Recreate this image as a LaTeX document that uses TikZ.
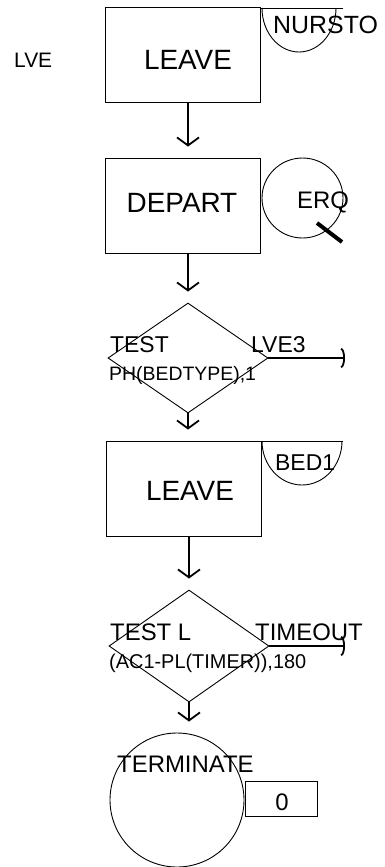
\documentclass[tikz,border=0pt]{standalone}
\usepackage{fontspec}
\setmainfont{Liberation Sans}
\usetikzlibrary{arrows.meta,shapes.geometric}
\begin{document}
\begin{tikzpicture}[x=1bp,y=-1bp,
  thinline/.style={line width=0.9bp},
  box/.style={draw,thinline,minimum width=155bp,minimum height=95bp,inner sep=0},
  dia/.style={draw,diamond,thinline,minimum width=160bp,minimum height=110bp,inner sep=0},
  flow/.style={line width=1.8bp,-{Straight Barb[length=8bp,width=22bp,line width=1.8bp]},shorten >=11bp},
  exitarrow/.style={line width=1.8bp,-{Arc Barb[length=4bp,width=20bp,line width=1.8bp]}},
  lbl/.style={inner sep=0,anchor=base west,font=\fontsize{23}{23}\selectfont},
  small/.style={inner sep=0,anchor=base west,font=\fontsize{19.5}{20}\selectfont},
  big/.style={inner sep=0,font=\fontsize{28}{28}\selectfont}]
\useasboundingbox (0,0) rectangle (384,867);

% blocks
\node[box] (b1) at (182.5,55) {};
\node[big] (t1) at (188,60) {LEAVE};
\node[box] (b2) at (183,205.5) {};
\node[big] (t2) at (182,203) {DEPART};
\node[dia] (d1) at (188,358) {};
\node[box] (b3) at (184,488.5) {};
\node[big] (t3) at (190,491) {LEAVE};
\node[dia, minimum height=112bp] (d2) at (189,646) {};
\node[draw,circle,thinline,minimum size=134bp,inner sep=0] (term) at (177,800) {};
\node[draw,thinline,minimum width=72bp,minimum height=35bp,inner sep=0] (zb) at (281,798.5) {};
\node[inner sep=0,font=\fontsize{24}{24}\selectfont] (zt) at (282,802) {0};

% label / entities
\node[inner sep=0,anchor=base west,font=\fontsize{21}{21}\selectfont] (lve) at (14,67.5) {LVE};

% NURSTO storage
\draw[thinline] (260,8) -- (343,8);
\draw[thinline] (262,8) arc[start angle=180,end angle=0,x radius=37,y radius=44];
\node[inner sep=0,anchor=base west,font=\fontsize{25}{25}\selectfont] (nursto) at (273,33) {NURSTO};

% ERQ queue
\node[draw,ellipse,thinline,minimum width=81bp,minimum height=80bp,inner sep=0] (q) at (302.5,198) {};
\node[inner sep=0,anchor=base west,font=\fontsize{24}{24}\selectfont] (erq) at (297,208) {ERQ};
\draw[line width=4bp] (317,223) -- (342,242);

% BED1 storage
\draw[thinline] (261,441) -- (343,441);
\draw[thinline] (262,441) arc[start angle=180,end angle=0,x radius=40,y radius=44];
\node[lbl] (bed1) at (275,470) {BED1};

% test 1 texts
\node[lbl] (test1) at (110,352) {TEST};
\node[lbl] (lve3) at (251,352) {LVE3};
\node[small] (ph) at (109,380) {PH(BEDTYPE),1};

% test 2 texts
\node[lbl,font=\fontsize{24}{24}\selectfont] (test2) at (110,640) {TEST L};
\node[lbl,font=\fontsize{24}{24}\selectfont] (timeout) at (255,640) {TIMEOUT};
\node[small,font=\fontsize{20}{20}\selectfont] (ac1) at (109,668) {(AC1-PL(TIMER)),180};

% terminate text
\node[lbl,font=\fontsize{24}{24}\selectfont] (termt) at (117,772) {TERMINATE};

% connectors
\draw[flow] (b1.south -| d1.north) -- (b2.north -| d1.north);
\draw[flow] (b2.south -| d1.north) -- (d1.north);
\draw[flow] (d1.south) -- (b3.north -| d1.south);
\draw[flow] (b3.south -| d2.north) -- (d2.north);
\draw[flow] (d2.south) -- (term.north -| d2.south);

\coordinate (e1) at (345,358);
\coordinate (e2) at (345,646);
\draw[exitarrow] (d1.east) -- (e1);
\draw[exitarrow] (d2.east) -- (e2);
\end{tikzpicture}
\end{document}
